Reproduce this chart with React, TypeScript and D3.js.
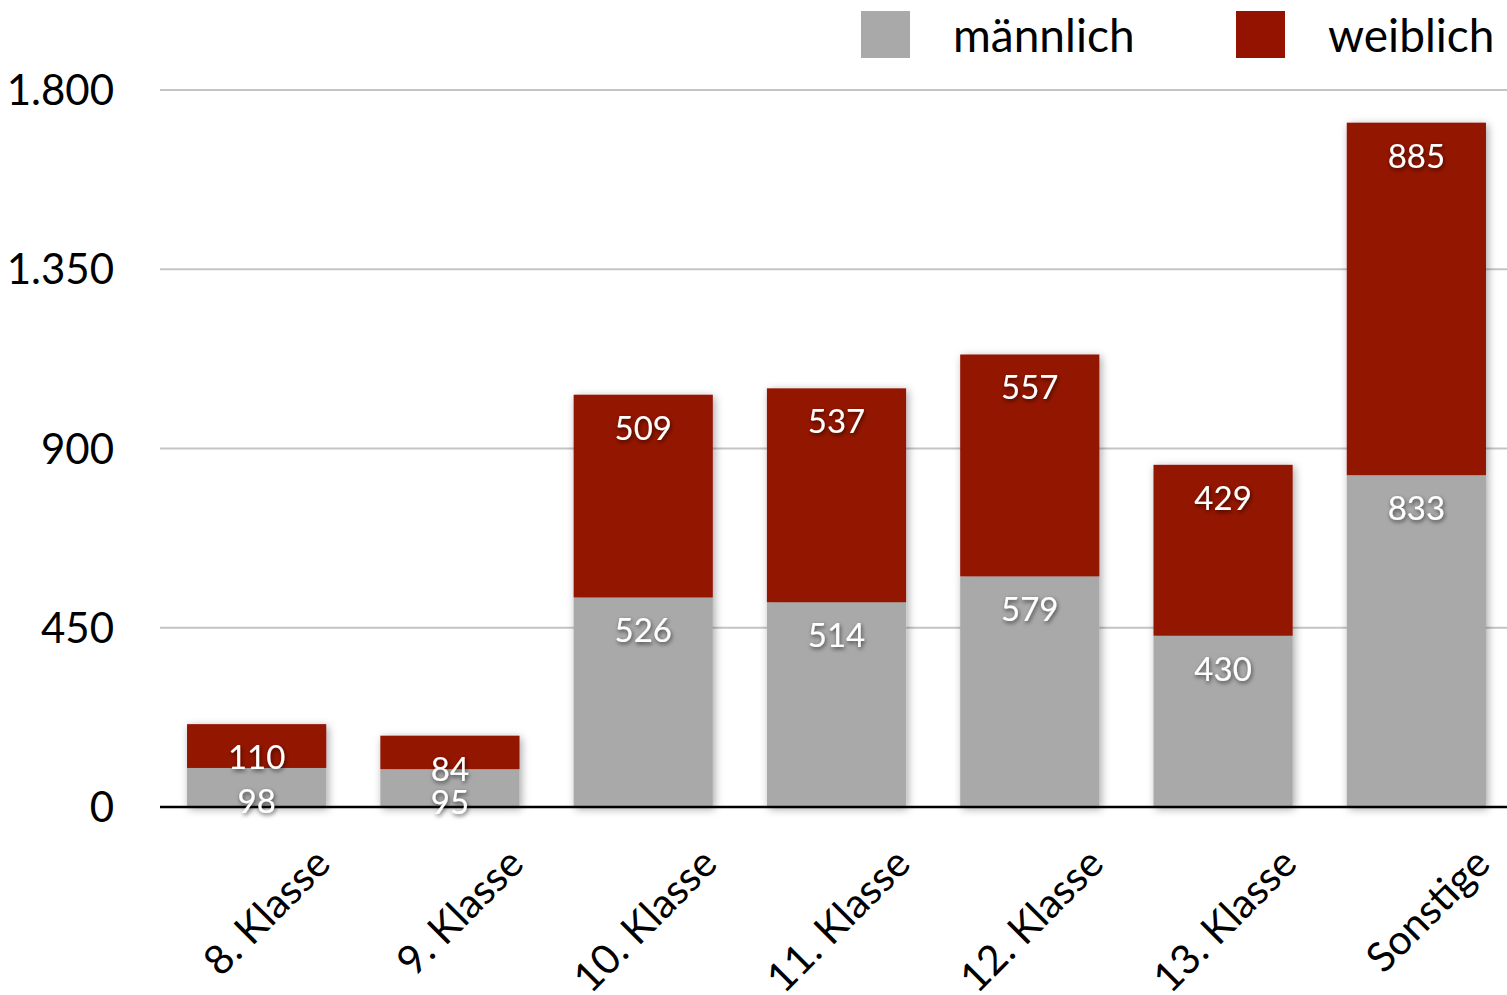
import React from "react";
import * as d3 from "d3";

const categories = ["8. Klasse", "9. Klasse", "10. Klasse", "11. Klasse", "12. Klasse", "13. Klasse", "Sonstige"];
const maleValues = [98, 95, 526, 514, 579, 430, 833];
const femaleValues = [110, 84, 509, 537, 557, 429, 885];
const yTicks = [0, 450, 900, 1350, 1800];
const seriesNames = ["männlich", "weiblich"];
const seriesColors = ["#a9a9a9", "#931300"];

const W = 1507;
const H = 995;
const FONT = "Lato, 'Open Sans', sans-serif";

export default function App() {
  const x = d3.scaleBand<string>().domain(categories).range([160, 1513]).paddingInner(0.28).paddingOuter(0.14);
  const y = d3.scaleLinear().domain([0, 1800]).range([807, 90]);
  const fmt = (v: number) => d3.format(",")(v).replace(/,/g, ".");

  const stacked = categories.map((c, i) => ({
    cat: c,
    segs: [
      { v: maleValues[i], y0: 0, y1: maleValues[i], color: seriesColors[0] },
      { v: femaleValues[i], y0: maleValues[i], y1: maleValues[i] + femaleValues[i], color: seriesColors[1] },
    ],
  }));

  return (
    <svg width={W} height={H} style={{ position: "absolute", left: 0, top: 0, background: "#fff" }} fontFamily={FONT}>
      <defs>
        <filter id="barShadow" x="-20%" y="-20%" width="140%" height="140%">
          <feDropShadow dx="2" dy="2" stdDeviation="4" floodColor="#000" floodOpacity="0.35" />
        </filter>
        <filter id="txtShadow" x="-30%" y="-30%" width="160%" height="160%">
          <feDropShadow dx="1" dy="2" stdDeviation="2" floodColor="#000" floodOpacity="0.6" />
        </filter>
      </defs>
      {/* grid */}
      {yTicks.filter((t) => t > 0).map((t) => (
        <line key={t} x1={160} x2={W} y1={y(t)} y2={y(t)} stroke="#c4c4c4" strokeWidth={2} />
      ))}
      {/* y tick labels */}
      {yTicks.map((t) => (
        <text key={t} x={114} y={y(t)} dy="0.36em" textAnchor="end" fontSize={42} fill="#000">
          {fmt(t)}
        </text>
      ))}
      {/* bars */}
      {stacked.map((d) => (
        <g key={d.cat} filter="url(#barShadow)">
          {d.segs.map((s, j) => (
            <rect key={j} x={x(d.cat)} width={x.bandwidth()} y={y(s.y1)} height={y(s.y0) - y(s.y1)} fill={s.color} />
          ))}
        </g>
      ))}
      {/* axis line */}
      <line x1={160} x2={W} y1={y(0)} y2={y(0)} stroke="#000" strokeWidth={2.5} />
      {/* value labels */}
      {stacked.map((d) =>
        d.segs.map((s, j) => (
          <text
            key={d.cat + j}
            x={(x(d.cat) as number) + x.bandwidth() / 2}
            y={y(s.y1) + 33}
            dy="0.36em"
            textAnchor="middle"
            fontSize={33}
            fill="#fff"
            filter="url(#txtShadow)"
          >
            {s.v}
          </text>
        ))
      )}
      {/* category labels */}
      {categories.map((c) => {
        const cx = (x(c) as number) + x.bandwidth() / 2 + 76;
        const cy = 866;
        return (
          <text key={c} x={cx} y={cy} textAnchor="end" fontSize={41} fill="#000" transform={`rotate(-45 ${cx} ${cy})`}>
            {c}
          </text>
        );
      })}
      {/* legend */}
      {seriesNames.map((n, i) => {
        const lx = [861, 1236][i];
        return (
          <g key={n}>
            <rect x={lx} y={11} width={49} height={47} fill={seriesColors[i]} />
            <text x={lx + 92} y={52} fontSize={46} fill="#000">
              {n}
            </text>
          </g>
        );
      })}
    </svg>
  );
}
